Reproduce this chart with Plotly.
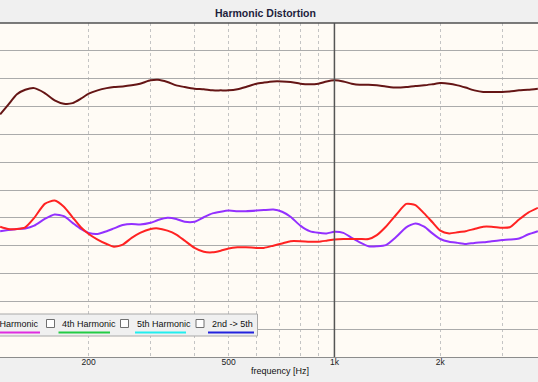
import plotly.graph_objects as go

# ---------------- data ----------------
freq_hz = [112, 118, 125, 132, 140, 150, 160, 170, 180, 190, 200, 212, 225, 236, 250,
           265, 280, 300, 315, 335, 355, 375, 400, 425, 450, 475, 500, 530, 560, 600,
           630, 670, 710, 750, 800, 850, 900, 950, 1000, 1060, 1120, 1180, 1250, 1320,
           1400, 1500, 1600, 1700, 1800, 1900, 2000, 2120, 2240, 2360, 2500, 2650, 2800,
           3000, 3150, 3350, 3550, 3790]

fundamental_db = [83.6, 85.3, 87.2, 88.0, 88.3, 87.4, 86.1, 85.5, 85.6, 86.4, 87.3, 87.9,
                  88.3, 88.5, 88.6, 88.8, 89.1, 89.7, 89.8, 89.4, 88.8, 88.5, 88.2, 88.1,
                  87.9, 87.9, 87.9, 88.1, 88.5, 89.1, 89.3, 89.5, 89.5, 89.4, 89.1, 89.0,
                  89.1, 89.5, 89.7, 89.5, 89.1, 88.9, 88.9, 88.8, 88.6, 88.4, 88.5, 88.7,
                  88.8, 89.0, 89.2, 89.1, 88.8, 88.4, 87.9, 87.6, 87.6, 87.6, 87.7, 87.9,
                  88.0, 88.2]

h2_db = [63.4, 63.0, 63.0, 63.3, 65.0, 67.5, 68.1, 67.0, 65.1, 63.3, 62.1, 61.1, 60.3,
         59.8, 60.2, 61.4, 62.3, 63.0, 63.1, 62.7, 62.0, 60.9, 59.6, 58.9, 58.8, 59.1,
         59.5, 59.7, 59.7, 59.6, 59.6, 60.0, 60.4, 60.8, 60.8, 60.7, 60.7, 60.9, 61.1,
         61.2, 61.2, 61.2, 61.2, 61.9, 63.4, 65.6, 67.5, 67.3, 65.8, 64.2, 62.7, 62.2,
         62.4, 62.6, 63.0, 63.4, 63.4, 63.2, 63.3, 64.7, 65.9, 66.8]

h3_db = [62.6, 62.8, 63.0, 63.1, 63.6, 64.8, 65.6, 65.3, 64.1, 63.0, 62.3, 62.1, 62.6,
         63.1, 63.7, 63.9, 63.8, 64.1, 64.6, 65.0, 64.8, 64.3, 64.3, 65.1, 65.8, 66.1,
         66.3, 66.2, 66.2, 66.3, 66.4, 66.5, 66.1, 65.2, 63.6, 62.6, 62.3, 62.2, 62.5,
         62.3, 61.4, 60.6, 59.9, 59.9, 60.1, 61.6, 63.3, 64.0, 63.4, 62.2, 61.2, 60.7,
         60.5, 60.3, 60.5, 60.6, 60.8, 61.0, 61.1, 61.3, 62.0, 62.6]

grid_freqs = [200, 300, 400, 500, 600, 700, 800, 900, 1000, 2000, 3000]
grid_labels = ["200", "", "", "500", "", "", "", "", "1k", "2k", ""]

legend_names = ["3rd Harmonic", "4th Harmonic", "5th Harmonic", "2nd -> 5th"]
legend_colors = ["#E02CE0", "#22CC44", "#22EEEE", "#2222DD"]

# ---------------- figure ----------------
W, H = 538, 382
T, B = 23, 25
PH = H - T - B


def px(x):
    return x / W


def py(y):
    return (H - B - y) / PH


fig = go.Figure()
fig.add_trace(go.Scatter(x=freq_hz, y=fundamental_db, mode="lines", name="Fundamental",
                         line=dict(color="#651515", width=2, shape="spline", smoothing=0.6)))
fig.add_trace(go.Scatter(x=freq_hz, y=h3_db, mode="lines", name="3rd Harmonic",
                         line=dict(color="#9330FF", width=2, shape="spline", smoothing=0.6)))
fig.add_trace(go.Scatter(x=freq_hz, y=h2_db, mode="lines", name="2nd Harmonic",
                         line=dict(color="#FF2222", width=2, shape="spline", smoothing=0.6)))

shapes = []
# 1 kHz emphasised line
shapes.append(dict(type="line", xref="x", yref="paper", x0=1000, x1=1000, y0=0, y1=1,
                   line=dict(color="#555555", width=1.5)))
# legend panel
shapes.append(dict(type="rect", xref="paper", yref="paper", x0=px(-3), x1=px(257.5),
                   y0=py(336), y1=py(314), fillcolor="#F0F0F0",
                   line=dict(color="#A8A8A8", width=1)))
annotations = []
text_x = [40.5, 60, 135, 210]
line_x = [(0, 40), (58.5, 110), (135, 186), (208, 254)]
box_x = [None, 46.5, 120.5, 196]
for i, name in enumerate(legend_names):
    annotations.append(dict(xref="paper", yref="paper", x=px(text_x[i]),
                            y=py(324), text=name, showarrow=False,
                            xanchor="right" if i == 0 else "left",
                            yanchor="middle",
                            font=dict(family="Liberation Sans, Arial", size=9, color="#111111")))
    shapes.append(dict(type="line", xref="paper", yref="paper", x0=px(line_x[i][0]),
                       x1=px(line_x[i][1]), y0=py(332.5), y1=py(332.5),
                       line=dict(color=legend_colors[i], width=2)))
    if box_x[i] is not None:
        shapes.append(dict(type="rect", xref="paper", yref="paper", x0=px(box_x[i]),
                           x1=px(box_x[i] + 8), y0=py(327.5), y1=py(319.5),
                           fillcolor="#FFFFFF", line=dict(color="#707070", width=1)))

annotations.append(dict(xref="paper", yref="paper", x=px(280), y=py(371),
                        text="frequency [Hz]", showarrow=False, xanchor="center",
                        yanchor="middle",
                        font=dict(family="Liberation Sans, Arial", size=9, color="#111111")))
annotations.append(dict(xref="paper", yref="paper", x=px(265.5), y=py(13),
                        text="<b>Harmonic Distortion</b>", showarrow=False, xanchor="center",
                        yanchor="middle",
                        font=dict(family="Liberation Sans, Arial", size=10.5, color="#1E1E3C")))

fig.update_layout(
    width=W, height=H,
    margin=dict(l=0, r=0, t=T, b=B, autoexpand=False),
    paper_bgcolor="#F0F0F0",
    plot_bgcolor="#FFFBF5",
    showlegend=False,
    shapes=shapes,
    annotations=annotations,
    xaxis=dict(type="log", range=[2.0488, 3.5790], tickvals=grid_freqs, ticktext=grid_labels,
               showgrid=True, gridcolor="#C4C4C4", griddash="dot", gridwidth=1,
               ticks="", showline=True, linecolor="#8C8C8C", mirror=False,
               zeroline=False, automargin=False, ticklabelstandoff=-3,
               tickfont=dict(family="Liberation Sans, Arial", size=8.5, color="#222222")),
    yaxis=dict(range=[40, 100], dtick=5, showticklabels=False, ticks="",
               showgrid=True, gridcolor="#ABABAB", gridwidth=1.2, zeroline=False,
               showline=False, automargin=False),
)
# top border line
fig.add_shape(type="line", xref="paper", yref="paper", x0=0, x1=1, y0=1, y1=1,
              line=dict(color="#505050", width=1.5))

fig.write_html("out.html", config={"displayModeBar": False},
               post_script="document.body.style.margin='0px';document.body.style.overflow='hidden';")
